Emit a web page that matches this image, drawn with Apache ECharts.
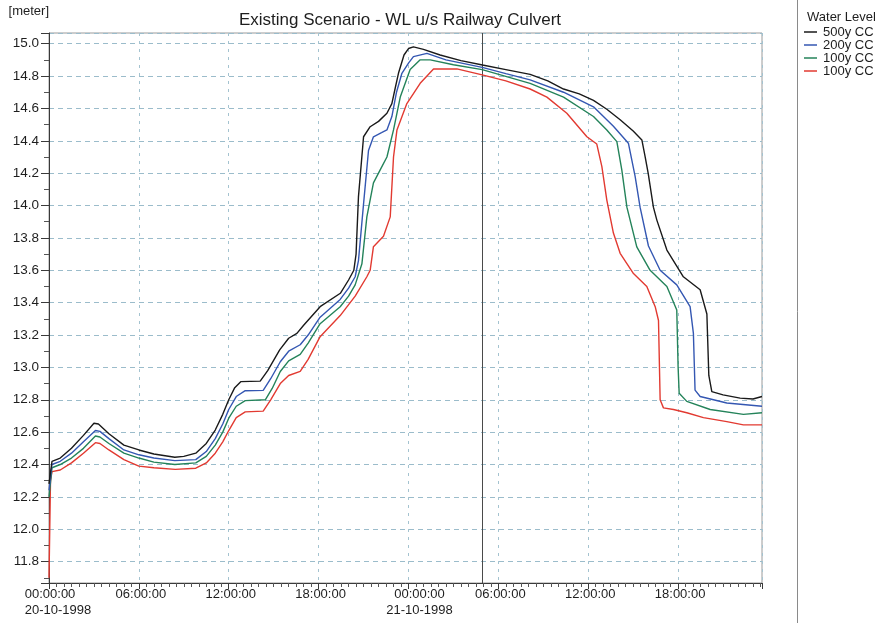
<!DOCTYPE html>
<html>
<head>
<meta charset="utf-8">
<script src="https://cdn.jsdelivr.net/npm/echarts@6/dist/echarts.min.js"></script>
<style>
  html, body { margin: 0; padding: 0; background: #fff; }
  #chart { width: 884px; height: 623px; }
</style>
</head>
<body>
<div id="chart"></div>
<script>
// Water level hydrographs, hours counted from 20-10-1998 00:00:00
const chartTitle = 'Existing Scenario - WL u/s Railway Culvert';
const unitLabel = '[meter]';
const legendTitle = 'Water Level';
const seriesNames = ['500y CC', '200y CC', '100y CC', '100y CC'];
const seriesColors = ['#1a1a1a', '#3457b2', '#24835a', '#e23a31'];
const dateLabels = { 0: '20-10-1998', 24: '21-10-1998' };
const cursorHour = 28.94;
const hourMax = 47.6;
const levelMin = 11.668;
const levelMax = 15.066;

const hours500 = [0, 0.2, 0.75, 1.5, 2.3, 3.0, 3.3, 4.0, 5.0, 6.0, 7.0, 8.4, 9.0, 9.8, 10.5, 11.1, 11.6, 12.0, 12.4, 12.8, 14.1, 14.6, 15.4, 16.0, 16.55, 17.0, 18.1, 19.45, 20.0, 20.35, 20.5, 20.66, 21.0, 21.44, 22.0, 22.56, 22.89, 23.1, 23.33, 23.7, 24.0, 24.33, 25.0, 26.11, 27.5, 28.94, 30.5, 32.12, 33.3, 34.35, 35.4, 36.35, 37.24, 38.13, 39.0, 39.58, 39.8, 40.0, 40.35, 40.58, 41.25, 42.35, 43.47, 43.92, 44.05, 44.25, 45.0, 46.14, 47.0, 47.6];
const level500 = [12.28, 12.42, 12.44, 12.50, 12.58, 12.655, 12.65, 12.59, 12.52, 12.49, 12.465, 12.445, 12.45, 12.47, 12.53, 12.613, 12.71, 12.80, 12.875, 12.912, 12.915, 12.98, 13.108, 13.18, 13.21, 13.26, 13.375, 13.458, 13.54, 13.60, 13.70, 14.055, 14.425, 14.487, 14.52, 14.57, 14.63, 14.72, 14.817, 14.93, 14.97, 14.98, 14.965, 14.93, 14.895, 14.868, 14.84, 14.81, 14.77, 14.72, 14.69, 14.65, 14.595, 14.53, 14.46, 14.405, 14.30, 14.20, 13.99, 13.91, 13.725, 13.56, 13.48, 13.33, 12.95, 12.85, 12.83, 12.81, 12.805, 12.82];

const hours200 = [0, 0.2, 0.75, 1.5, 2.3, 3.1, 3.4, 4.0, 5.0, 6.0, 7.0, 8.4, 9.8, 10.5, 11.1, 11.6, 12.0, 12.5, 13.1, 14.3, 14.8, 15.44, 16.0, 16.77, 17.3, 18.1, 19.44, 20.0, 20.44, 20.66, 21.0, 21.33, 21.66, 22.2, 22.56, 22.89, 23.2, 23.56, 24.0, 24.33, 25.23, 26.5, 28.92, 30.5, 32.12, 34.35, 36.35, 37.68, 38.68, 39.13, 39.46, 40.02, 40.8, 41.91, 42.8, 43.02, 43.13, 43.47, 45.25, 47.6];
const level200 = [12.24, 12.40, 12.42, 12.47, 12.54, 12.61, 12.605, 12.56, 12.49, 12.46, 12.44, 12.424, 12.43, 12.48, 12.56, 12.65, 12.74, 12.82, 12.856, 12.858, 12.93, 13.035, 13.10, 13.14, 13.20, 13.31, 13.42, 13.49, 13.56, 13.66, 14.01, 14.34, 14.425, 14.45, 14.467, 14.55, 14.70, 14.817, 14.88, 14.92, 14.94, 14.90, 14.854, 14.815, 14.776, 14.70, 14.61, 14.49, 14.385, 14.18, 13.99, 13.75, 13.60, 13.51, 13.375, 13.21, 12.86, 12.82, 12.78, 12.76];

const hours100 = [0, 0.2, 0.75, 1.5, 2.3, 3.1, 3.4, 4.0, 5.0, 6.0, 7.0, 8.4, 9.8, 10.5, 11.1, 11.6, 12.0, 12.5, 13.1, 14.44, 14.9, 15.44, 16.0, 16.77, 17.3, 18.1, 19.44, 20.0, 20.44, 20.89, 21.22, 21.66, 22.11, 22.56, 23.0, 23.45, 24.11, 24.78, 25.45, 27.0, 28.92, 32.12, 34.35, 36.35, 37.24, 37.91, 38.24, 38.58, 39.24, 40.13, 41.25, 41.91, 42.0, 42.07, 42.58, 44.14, 46.36, 47.6];
const level100 = [12.20, 12.38, 12.40, 12.44, 12.50, 12.576, 12.57, 12.53, 12.47, 12.44, 12.415, 12.40, 12.41, 12.45, 12.52, 12.60, 12.686, 12.76, 12.795, 12.80, 12.87, 12.975, 13.04, 13.08, 13.15, 13.27, 13.375, 13.44, 13.51, 13.64, 13.93, 14.14, 14.22, 14.30, 14.467, 14.67, 14.84, 14.90, 14.90, 14.87, 14.84, 14.755, 14.67, 14.55, 14.467, 14.395, 14.22, 13.99, 13.745, 13.60, 13.50, 13.355, 13.0, 12.84, 12.79, 12.74, 12.71, 12.72];

const hours100b = [0, 0.1, 0.2, 0.75, 1.5, 2.3, 3.1, 3.4, 4.0, 5.0, 6.0, 7.0, 8.43, 9.8, 10.5, 11.1, 11.6, 12.0, 12.5, 13.1, 14.3, 14.8, 15.44, 16.0, 16.77, 17.3, 18.1, 19.44, 20.44, 21.22, 21.44, 21.66, 22.33, 22.78, 23.0, 23.23, 23.89, 24.78, 25.67, 27.23, 28.92, 30.5, 32.12, 33.24, 34.57, 35.91, 36.57, 36.91, 37.24, 37.68, 38.13, 39.02, 39.91, 40.47, 40.69, 40.8, 41.02, 41.69, 42.58, 43.69, 45.25, 46.36, 47.6];
const level100b = [11.70, 12.30, 12.356, 12.366, 12.41, 12.47, 12.535, 12.53, 12.49, 12.43, 12.39, 12.38, 12.37, 12.377, 12.41, 12.47, 12.54, 12.61, 12.69, 12.725, 12.73, 12.80, 12.90, 12.95, 12.975, 13.05, 13.19, 13.32, 13.44, 13.56, 13.60, 13.746, 13.81, 13.93, 14.30, 14.467, 14.63, 14.755, 14.844, 14.844, 14.807, 14.77, 14.72, 14.67, 14.57, 14.425, 14.38, 14.24, 14.034, 13.83, 13.705, 13.58, 13.50, 13.375, 13.29, 12.80, 12.75, 12.74, 12.72, 12.69, 12.665, 12.645, 12.645];

const seriesHours = [hours500, hours200, hours100, hours100b];
const seriesLevels = [level500, level200, level100, level100b];

const FONT = '"Liberation Sans", Arial, sans-serif';
const TEXT = '#1e1e1e';

function pairUp(hs, vs) { return hs.map((h, i) => [h, vs[i]]); }

function timeLabel(v) {
  if (Math.abs(v / 6 - Math.round(v / 6)) > 1e-6) return '';
  const h = Math.round(v);
  const hh = String(h % 24).padStart(2, '0') + ':00:00';
  if (h === 0) return '{f|' + hh + '}\n{f|' + dateLabels[0] + '}';
  if (h === 24) return '{m|' + hh + '}\n{m|' + dateLabels[24] + '}';
  return '{n|' + hh + '}';
}

function levelLabel(v) {
  if (Math.abs(v * 5 - Math.round(v * 5)) > 1e-6) return '';
  return v.toFixed(1);
}

const labelBase = { fontFamily: FONT, fontSize: 13, color: TEXT, lineHeight: 16 };

const series = seriesNames.map((name, i) => {
  const s = {
    name: name,
    type: 'line',
    data: pairUp(seriesHours[i], seriesLevels[i]),
    showSymbol: false,
    symbol: 'none',
    lineStyle: { color: seriesColors[i], width: 1.4 },
    itemStyle: { color: seriesColors[i] },
    z: 10 - i
  };
  if (i === 0) {
    s.markLine = {
      silent: true,
      symbol: 'none',
      label: { show: false },
      lineStyle: { color: '#4a4a4a', width: 1, type: 'solid' },
      data: [{ xAxis: cursorHour }]
    };
  }
  return s;
});

const graphic = [
  { type: 'line', shape: { x1: 797.5, y1: 0, x2: 797.5, y2: 623 }, style: { stroke: '#8a8a8a', lineWidth: 1 } },
  { type: 'text', x: 807, y: 17, style: { text: legendTitle, font: '13px ' + FONT, fill: TEXT, verticalAlign: 'middle', align: 'left' } }
];
seriesNames.forEach((n, i) => {
  const y = 32 + i * 13;
  graphic.push({ type: 'line', shape: { x1: 804, y1: y, x2: 817, y2: y }, style: { stroke: seriesColors[i], lineWidth: 1.5 } });
  graphic.push({ type: 'text', x: 823, y: y, style: { text: n, font: '13px ' + FONT, fill: TEXT, verticalAlign: 'middle', align: 'left' } });
});

const chart = echarts.init(document.getElementById('chart'), null, { renderer: 'canvas' });
chart.setOption({
  animation: false,
  backgroundColor: '#ffffff',
  title: {
    text: chartTitle,
    left: 400,
    top: 12,
    textAlign: 'center',
    padding: 0,
    textStyle: { fontFamily: FONT, fontSize: 17, fontWeight: 'normal', color: TEXT }
  },
  grid: {
    left: 49, right: 122, top: 33, bottom: 40,
    show: true, borderColor: '#9a9a9a', borderWidth: 1, backgroundColor: 'transparent'
  },
  xAxis: {
    type: 'value',
    min: 0,
    max: hourMax,
    interval: 6,
    axisLine: { show: true, lineStyle: { color: '#3a3a3a', width: 1 } },
    axisTick: { show: true, length: 6, inside: false, lineStyle: { color: '#3a3a3a' } },
    minorTick: { show: true, splitNumber: 12, length: 4, lineStyle: { color: '#555' } },
    splitLine: { show: true, lineStyle: { color: '#a4c3d0', width: 1, type: [3, 5] } },
    axisLabel: {
      margin: 3,
      formatter: timeLabel,
      showMaxLabel: false,
      ...labelBase,
      rich: {
        f: Object.assign({ align: 'left', padding: [0, 0, 0, 18] }, labelBase),
        m: Object.assign({ padding: [0, 0, 0, 22] }, labelBase),
        n: Object.assign({ padding: [0, 0, 0, 4] }, labelBase)
      }
    }
  },
  yAxis: {
    type: 'value',
    min: levelMin,
    max: levelMax,
    splitNumber: 17,
    minInterval: 0.2,
    maxInterval: 0.2,
    name: unitLabel,
    nameLocation: 'end',
    nameGap: 15,
    nameTextStyle: { fontFamily: FONT, fontSize: 13, color: TEXT, align: 'right', padding: [0, 0, 0, 0] },
    axisLine: { show: true, lineStyle: { color: '#3a3a3a', width: 1 } },
    axisTick: { show: true, length: 8, lineStyle: { color: '#3a3a3a' } },
    minorTick: { show: true, splitNumber: 2, length: 5, lineStyle: { color: '#555' } },
    splitLine: { show: true, lineStyle: { color: '#9bbccb', width: 1, type: [5, 4] } },
    axisLabel: { margin: 10, formatter: levelLabel, fontFamily: FONT, fontSize: 13.5, color: TEXT }
  },
  series: series,
  graphic: graphic
});
</script>
</body>
</html>
